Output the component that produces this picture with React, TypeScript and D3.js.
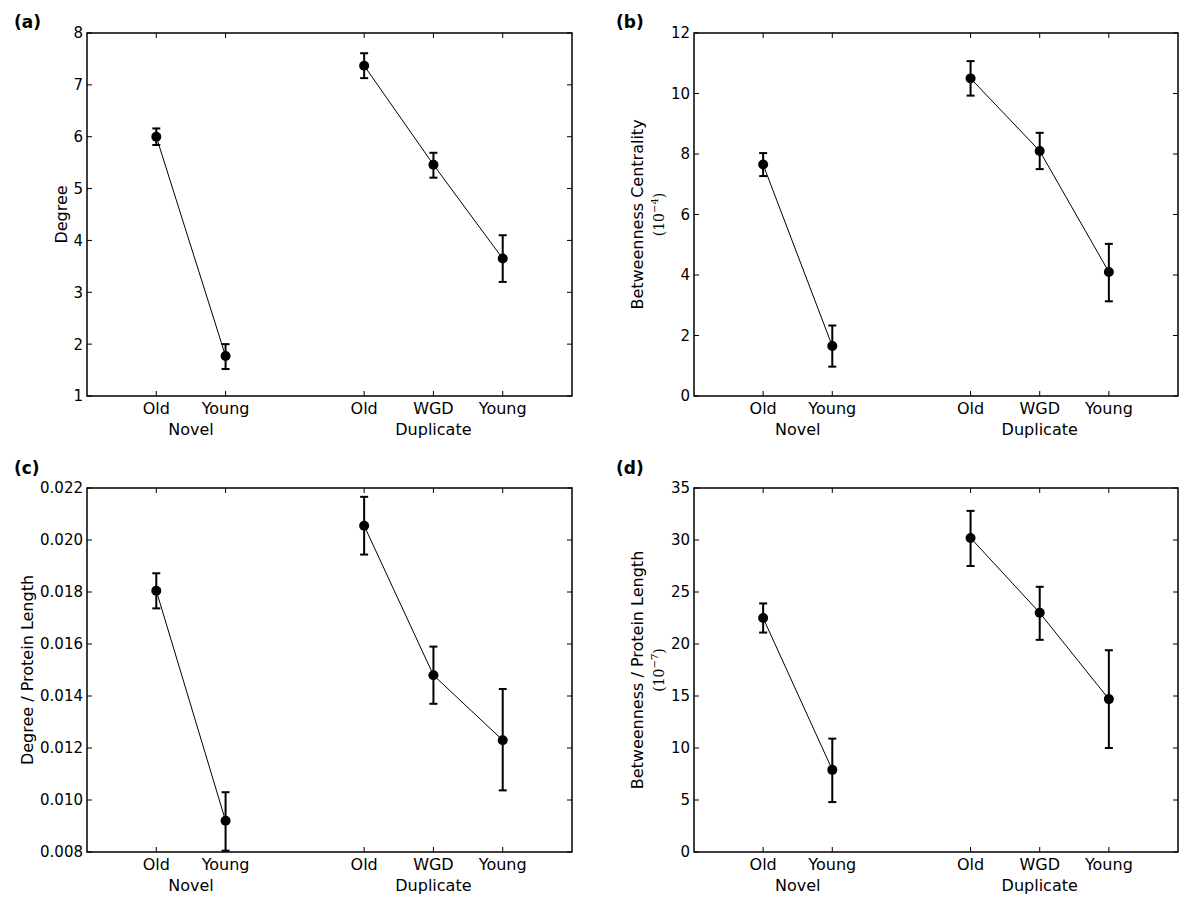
import React from "react";
import * as d3 from "d3";

// ---- data ----
const categories = ["Old", "Young", "Old", "WGD", "Young"];
const catPositions = [1, 2, 4, 5, 6];
const groupLabels = ["Novel", "Duplicate"];
const groupCenters = [1.5, 5];
const groupMembers = [[0, 1], [2, 3, 4]];

const degreeMean = [6.0, 1.77, 7.37, 5.46, 3.65];
const degreeLow = [5.84, 1.52, 7.13, 5.21, 3.2];
const degreeHigh = [6.16, 2.0, 7.61, 5.69, 4.1];

const betweenMean = [7.65, 1.65, 10.5, 8.1, 4.1];
const betweenLow = [7.27, 0.97, 9.93, 7.5, 3.13];
const betweenHigh = [8.03, 2.33, 11.07, 8.7, 5.03];

const degLenMean = [0.01805, 0.0092, 0.02055, 0.0148, 0.0123];
const degLenLow = [0.01737, 0.00805, 0.01944, 0.0137, 0.01037];
const degLenHigh = [0.01872, 0.0103, 0.02166, 0.0159, 0.01427];

const betLenMean = [22.5, 7.9, 30.2, 23.0, 14.7];
const betLenLow = [21.1, 4.8, 27.5, 20.4, 10.0];
const betLenHigh = [23.9, 10.9, 32.8, 25.5, 19.4];

const yTicksA = [1, 2, 3, 4, 5, 6, 7, 8];
const yTicksB = [0, 2, 4, 6, 8, 10, 12];
const yTicksC = [0.008, 0.01, 0.012, 0.014, 0.016, 0.018, 0.02, 0.022];
const yTicksD = [0, 5, 10, 15, 20, 25, 30, 35];

const panels = [
  {
    letter: "(a)", left: 87, right: 572, top: 33, bottom: 396,
    domain: [1, 8], ticks: yTicksA, fmt: "d",
    label: "Degree", exp: null, labelX: 61,
    mean: degreeMean, low: degreeLow, high: degreeHigh,
    letterX: 14, letterY: 28,
  },
  {
    letter: "(b)", left: 694, right: 1178, top: 33, bottom: 396,
    domain: [0, 12], ticks: yTicksB, fmt: "d",
    label: "Betweenness Centrality", exp: "−4", labelX: 637,
    mean: betweenMean, low: betweenLow, high: betweenHigh,
    letterX: 616, letterY: 28,
  },
  {
    letter: "(c)", left: 87, right: 572, top: 488, bottom: 852,
    domain: [0.008, 0.022], ticks: yTicksC, fmt: ".3f",
    label: "Degree / Protein Length", exp: null, labelX: 27,
    mean: degLenMean, low: degLenLow, high: degLenHigh,
    letterX: 14, letterY: 474,
  },
  {
    letter: "(d)", left: 694, right: 1178, top: 488, bottom: 852,
    domain: [0, 35], ticks: yTicksD, fmt: "d",
    label: "Betweenness / Protein Length", exp: "−7", labelX: 637,
    mean: betLenMean, low: betLenLow, high: betLenHigh,
    letterX: 616, letterY: 474,
  },
];

const SANS = "'DejaVu Sans', sans-serif";
const SERIF = "'DejaVu Serif', serif";

function Panel({ p }: { p: any }) {
  const x = d3.scaleLinear().domain([0, 7]).range([p.left, p.right]);
  const y = d3.scaleLinear().domain(p.domain).range([p.bottom, p.top]);
  const fmt = d3.format(p.fmt);
  const line = d3
    .line<number>()
    .x((i) => x(catPositions[i]))
    .y((i) => y(p.mean[i]));
  const tickLen = 5;
  const midY = (p.top + p.bottom) / 2;
  return (
    <g>
      <text x={p.letterX} y={p.letterY} fontFamily={SANS} fontWeight="bold" fontSize={17}>
        {p.letter}
      </text>
      {/* y ticks */}
      {p.ticks.map((t: number, i: number) => (
        <g key={"y" + i}>
          <line x1={p.left} x2={p.left + tickLen} y1={y(t)} y2={y(t)} stroke="#000" strokeWidth={1} />
          <line x1={p.right} x2={p.right - tickLen} y1={y(t)} y2={y(t)} stroke="#000" strokeWidth={1} />
          <text x={p.left - 4} y={y(t)} dy="0.36em" textAnchor="end" fontFamily={SANS} fontSize={15}>
            {fmt(t)}
          </text>
        </g>
      ))}
      {/* x ticks */}
      {catPositions.map((c, i) => (
        <g key={"x" + i}>
          <line x1={x(c)} x2={x(c)} y1={p.bottom} y2={p.bottom - tickLen} stroke="#000" strokeWidth={1} />
          <line x1={x(c)} x2={x(c)} y1={p.top} y2={p.top + tickLen} stroke="#000" strokeWidth={1} />
          <text x={x(c)} y={p.bottom + 18} textAnchor="middle" fontFamily={SANS} fontSize={16}>
            {categories[i]}
          </text>
        </g>
      ))}
      {groupLabels.map((g, i) => (
        <text key={"g" + i} x={x(groupCenters[i])} y={p.bottom + 39} textAnchor="middle" fontFamily={SANS} fontSize={16}>
          {g}
        </text>
      ))}
      {/* y label */}
      <text
        transform={`translate(${p.labelX},${midY}) rotate(-90)`}
        textAnchor="middle"
        dy="0.36em"
        fontFamily={SANS}
        fontSize={16}
      >
        {p.label}
      </text>
      {p.exp && (
        <text
          transform={`translate(${p.labelX + 22},${midY}) rotate(-90)`}
          textAnchor="middle"
          dy="0.36em"
          fontFamily={SERIF}
          fontSize={14}
        >
          (10
          <tspan dy={-6} fontSize={10}>{p.exp}</tspan>
          <tspan dy={6}>)</tspan>
        </text>
      )}
      {/* lines */}
      {groupMembers.map((m, gi) => (
        <path key={"l" + gi} d={line(m) || ""} fill="none" stroke="#000" strokeWidth={1} />
      ))}
      {/* error bars */}
      {catPositions.map((c, i) => (
        <g key={"e" + i} stroke="#000" strokeWidth={2}>
          <line x1={x(c)} x2={x(c)} y1={y(p.low[i])} y2={y(p.high[i])} />
          <line x1={x(c) - 4} x2={x(c) + 4} y1={y(p.low[i])} y2={y(p.low[i])} />
          <line x1={x(c) - 4} x2={x(c) + 4} y1={y(p.high[i])} y2={y(p.high[i])} />
        </g>
      ))}
      {catPositions.map((c, i) => (
        <circle key={"c" + i} cx={x(c)} cy={y(p.mean[i])} r={5} fill="#000" />
      ))}
      {/* frame */}
      <rect
        x={p.left}
        y={p.top}
        width={p.right - p.left}
        height={p.bottom - p.top}
        fill="none"
        stroke="#000"
        strokeWidth={1.5}
      />
    </g>
  );
}

export default function App() {
  return (
    <svg
      width={1200}
      height={905}
      style={{ position: "absolute", left: 0, top: 0, background: "#fff" }}
    >
      <rect x={0} y={0} width={1200} height={905} fill="#fff" />
      {panels.map((p, i) => (
        <Panel key={i} p={p} />
      ))}
    </svg>
  );
}
